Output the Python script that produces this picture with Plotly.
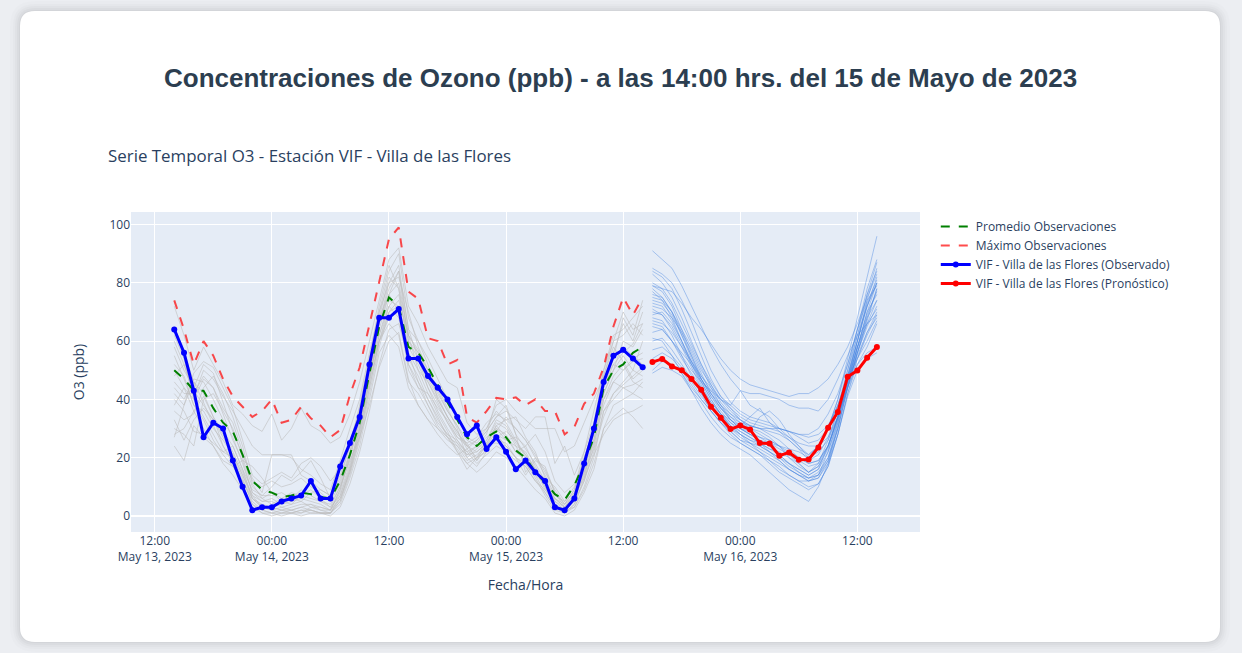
import plotly.graph_objects as go
import pandas as pd

obs_hours = pd.date_range("2023-05-13 14:00", periods=49, freq="h")
fc_hours = pd.date_range("2023-05-15 15:00", periods=24, freq="h")

promedio = [50,47,43,43,37,32,29,21,12,9, 8,6.5,7,8,7.5,6.5,6,12,21,32, 49,65,75,72,58,56,51,45,39,33,
            27,24,27,29,27,22.5,20,15,11.5,7.5, 5.5,10.5,18,27,44,50,52,56,58]
maximo = [74,64,52,60,55,47,41,37.5,34,36, 40,32,33,37.5,33.5,31,27,29.5,41.5,51, 66,80,95,99,77,74.5,61,60,52,53.5,
          34,32,36,40.5,40,40.7,38,40,36,36, 28,30.5,38.5,42,51,65,75,69,75]
observado = [64,56,43,27,32,30,19,10,2,3, 3,5,6,7,12,6,6,17,25,34, 52,68,68,71,54,54,48,44,40,34,
             28,31,23,27,22,16,19,15,12,3, 2,6,18,30,46,55,57,54,51]
pronostico = [52.8,53.9,51.3,50,47,43.3,37.5,33.7,29.8,31,29.7,25,24.9,20.7,21.8,19.3,19.4,23.5,30.3,35.7,47.8,49.9,54.3,58]

otras_estaciones = [
    [72,62,50,58,52,46,38,35,31,29, 35,26,30,37,31,29,25,27,35,46, 60,74,88,92,72,66,58,52,46,44, 32,28,30,38,40,36,33,30,30,30, 22,24,32,40,48,60,70,64,66],
    [60,52,41,50,47,41,36,30,24,21, 21,21,20,16,14,11,9,19,30,40, 56,70,80,86,64,60,54,47,40,34, 27,25,29,34,36,33,30,34,34,18, 24,14,22,32,44,54,68,62,74],
    [42,38,49,53,51,44,37,26,14,11, 13,15,13,18,20,17,12,16,26,36, 50,64,76,80,62,57,48,42,36,31, 24,22,25,30,26,27,24,28,22,12, 8,11,18,28,42,50,55,50,60],
    [24,19,31,27,24,19,17,19,17,13, 8,5,4,7,9,6,3,10,19,27, 38,51,60,63,47,38,33,30,27,22, 18,20,24,26,25,20,14,19,17,8, 4,7,13,21,28,33,35,36,38],
    [28,30,36,41,34,29,24,16,6,3, 2,1,2,3,2,1,1,6,15,28, 44,60,72,76,60,54,44,38,32,26, 22,18,21,24,22,19,17,12,8,3, 1,3,10,20,36,42,46,50,48],
    [38,44,40,34,28,22,20,13,4,2, 1,1,1,2,2,1,1,5,14,26, 42,58,70,72,56,50,46,40,34,29, 24,20,22,28,24,20,18,13,7,2, 1,4,12,24,40,48,52,46,44],
    [44,40,47,46,40,33,27,18,8,5, 6,4,5,6,5,4,2,8,18,30, 46,66,78,84,60,56,50,44,37,30, 20,23,26,32,30,24,22,16,10,4, 2,6,16,26,42,50,60,58,64],
    [55,47,38,36,30,26,21,14,6,4, 3,2,3,4,4,2,1,7,17,31, 48,62,74,72,58,52,44,36,30,25, 20,17,22,28,26,24,18,14,11,6, 3,6,14,25,38,46,44,42,40],
    [30,28,24,40,42,36,30,20,10,7, 7,8,6,5,8,9,7,13,24,36, 52,68,82,78,56,46,40,33,28,26, 21,24,27,30,28,22,19,14,8,3, 2,5,15,29,44,52,50,54,56],
    [48,52,43,38,33,27,21,14,7,3, 2,3,2,1,3,3,2,9,20,34, 50,60,66,62,46,42,36,30,26,24, 19,21,24,29,34,30,26,21,15,9, 4,9,20,30,46,54,58,55,52],
    [36,33,35,44,48,42,34,24,11,6, 4,6,8,7,6,5,3,7,16,29, 47,62,72,68,52,44,42,37,33,27, 24,26,30,36,32,26,20,15,13,10, 5,8,15,23,36,40,44,45,47],
    [65,56,46,42,34,24,18,10,4,1, 0,1,1,0,1,1,1,4,13,24, 40,56,62,58,44,38,33,28,24,21, 23,26,29,34,38,28,23,18,12,5, 2,3,9,18,30,38,40,42,46],
    [40,36,29,28,25,22,24,16,9,7, 10,14,12,15,19,13,6,12,22,35, 52,70,84,90,68,60,52,40,34,28, 25,19,23,27,29,26,21,16,9,6, 3,8,18,32,50,62,64,68,72],
    [52,48,38,33,26,21,17,12,5,2, 1,0,1,1,2,1,0,3,11,22, 36,52,64,66,54,48,40,34,27,23, 18,15,18,22,20,17,13,9,6,1, 0,2,8,16,30,34,37,34,30],
    [46,42,42,48,44,37,32,22,12,10, 12,10,11,13,10,8,5,11,21,33, 50,66,80,82,70,58,50,43,36,31, 26,24,24,31,27,22,24,17,11,5, 3,7,19,28,46,56,66,60,70],
    [33,26,33,37,33,28,22,15,7,5, 5,3,4,5,3,2,2,6,15,27, 44,60,68,70,50,44,38,32,28,24, 21,22,25,25,24,20,17,12,9,4, 2,5,12,22,34,42,45,48,51],
    [58,50,44,52,49,39,29,21,13,8, 21,21,21,14,12,9,7,14,24,38, 54,72,86,78,62,56,47,41,34,29, 23,19,25,31,33,30,26,20,14,7, 5,10,22,36,50,60,62,66,62],
    [50,44,36,30,24,18,14,9,3,1, 1,2,1,2,1,1,1,5,16,30, 46,60,70,74,62,50,42,35,29,22, 16,20,26,33,31,25,21,16,10,3, 1,4,13,26,40,46,50,53,54],
    [27,38,46,39,31,24,19,12,6,3, 3,2,2,3,4,3,2,9,22,37, 54,68,76,70,52,46,38,31,27,25, 22,24,28,40,37,28,15,20,16,8, 3,6,17,31,48,58,53,47,50],
    [62,54,40,47,44,35,26,19,8,6, 8,6,6,9,7,5,4,10,20,32, 48,66,76,84,64,54,46,39,32,27, 25,27,32,35,33,34,27,22,13,6, 4,9,20,30,47,52,56,59,66],
]

pronosticos_conjunto = [
    [91,88,85,79,72,65,58,52,47,43,38,36,34,30,27,24,21,24,30,40,54,68,82,96],
    [79,78,77,73,68,64,59,54,50,47,45,44,43,42,41,42,42,44,47,52,58,66,75,83],
    [85,83,80,74,67,58,50,44,39,36,34,33,32,30,29,27,25,26,30,38,50,64,78,88],
    [84,82,78,71,63,55,47,41,37,33,31,30,28,26,23,20,18,19,24,34,48,62,76,87],
    [80,78,73,66,59,52,45,39,35,32,30,28,26,24,21,18,15,17,23,34,47,60,73,81],
    [79,77,72,64,56,49,42,37,33,30,28,26,24,21,18,16,14,16,22,32,45,58,70,80],
    [76,75,70,63,55,47,41,36,32,29,27,25,22,20,17,15,13,15,20,30,44,56,67,78],
    [74,73,69,62,55,48,43,38,34,31,34,37,32,29,26,23,19,21,27,36,48,60,72,80],
    [72,71,68,63,57,50,45,40,36,33,30,29,27,24,20,17,15,18,26,36,50,62,72,82],
    [70,69,65,59,52,46,40,35,31,28,25,23,21,19,16,14,13,14,20,32,46,58,68,74],
    [69,70,66,60,53,47,42,38,35,33,31,30,29,28,26,23,21,24,30,40,52,64,74,79],
    [68,67,62,55,48,42,36,32,28,25,23,21,19,16,14,12,12,13,18,30,44,56,65,72],
    [66,65,60,54,49,44,39,35,31,28,26,24,22,19,16,14,12,13,19,31,45,55,63,70],
    [65,64,60,56,52,47,42,37,33,30,29,34,36,33,28,24,20,22,26,34,44,54,62,69],
    [63,64,60,55,50,46,43,40,38,43,42,42,41,40,38,37,37,36,40,47,55,62,66,69],
    [60,61,57,52,47,42,38,35,33,31,29,27,26,24,23,22,20,24,30,38,47,54,60,67],
    [57,58,55,51,46,41,37,34,31,29,27,25,23,22,20,18,15,17,24,34,46,56,66,74],
    [54,56,54,50,45,40,36,32,29,26,24,22,19,17,14,12,10,11,17,28,42,52,58,66],
    [61,60,55,49,43,37,32,28,25,23,21,18,15,12,9,7,5,10,18,28,42,54,63,68],
    [50,53,52,49,44,40,36,32,29,26,25,24,22,20,18,15,13,14,19,30,44,52,56,58],
    [49,51,50,48,43,39,34,30,27,25,23,21,18,15,13,11,9,11,17,28,41,50,54,56],
    [75,74,70,64,58,51,44,38,33,30,28,27,25,23,21,19,17,18,24,34,46,58,70,76],
    [73,72,67,60,52,45,39,35,32,30,28,26,25,24,22,20,18,19,24,33,46,60,74,85],
    [78,75,70,62,54,47,41,37,34,32,31,30,30,30,29,28,27,28,31,38,48,60,72,80],
    [83,80,75,68,60,52,46,41,38,35,33,32,31,30,29,28,28,30,35,42,52,64,76,84],
    [77,74,68,60,53,46,40,35,30,27,25,22,20,18,16,14,12,14,22,33,46,58,69,77],
    [71,69,64,58,51,44,38,33,30,28,26,25,23,21,18,16,14,16,24,34,47,58,66,71],
    [67,66,63,58,53,48,44,40,37,34,32,31,30,29,27,25,24,24,27,34,44,56,68,78],
]

W, H = 1242, 653
L, R, T, B = 131, 920, 212, 532
px = lambda v: (v - L) / (R - L)
py = lambda v: (B - v) / (B - T)


def rounded(x0, y0, x1, y1, r):
    return (f"M {px(x0+r)} {py(y0)} L {px(x1-r)} {py(y0)} "
            f"Q {px(x1)} {py(y0)} {px(x1)} {py(y0+r)} L {px(x1)} {py(y1-r)} "
            f"Q {px(x1)} {py(y1)} {px(x1-r)} {py(y1)} L {px(x0+r)} {py(y1)} "
            f"Q {px(x0)} {py(y1)} {px(x0)} {py(y1-r)} L {px(x0)} {py(y0+r)} "
            f"Q {px(x0)} {py(y0)} {px(x0+r)} {py(y0)} Z")


fig = go.Figure()
for serie in otras_estaciones:
    fig.add_trace(go.Scatter(x=obs_hours, y=serie, mode="lines", showlegend=False, hoverinfo="skip",
                             line=dict(color="rgba(190,190,190,0.6)", width=1)))
for serie in pronosticos_conjunto:
    fig.add_trace(go.Scatter(x=fc_hours, y=serie, mode="lines", showlegend=False, hoverinfo="skip",
                             line=dict(color="rgba(70,130,225,0.42)", width=1)))
fig.add_trace(go.Scatter(x=obs_hours, y=promedio, mode="lines", name="Promedio Observaciones",
                         line=dict(color="green", width=2, dash="dash")))
fig.add_trace(go.Scatter(x=obs_hours, y=maximo, mode="lines", name="Máximo Observaciones",
                         line=dict(color="rgba(255,0,0,0.7)", width=2, dash="dash")))
fig.add_trace(go.Scatter(x=obs_hours, y=observado, mode="lines+markers", name="VIF - Villa de las Flores (Observado)",
                         line=dict(color="blue", width=3), marker=dict(color="blue", size=6)))
fig.add_trace(go.Scatter(x=fc_hours, y=pronostico, mode="lines+markers", name="VIF - Villa de las Flores (Pronóstico)",
                         line=dict(color="red", width=3), marker=dict(color="red", size=6)))

shapes = []
for grow, alpha in [(10, 0.012), (7, 0.015), (5, 0.02), (3, 0.025), (1, 0.03)]:
    shapes.append(dict(type="path", xref="paper", yref="paper", layer="below", line_width=0,
                       fillcolor=f"rgba(0,0,0,{alpha})",
                       path=rounded(20 - grow, 11 - grow, 1220 + grow, 642 + grow, 15 + grow)))
shapes.append(dict(type="path", xref="paper", yref="paper", layer="below", line_width=0,
                   fillcolor="white", path=rounded(20, 11, 1220, 642, 15)))
shapes.append(dict(type="rect", xref="paper", yref="paper", layer="below", line_width=0,
                   fillcolor="#E5ECF6", x0=0, x1=1, y0=0, y1=1))

fig.update_layout(
    template="plotly",
    width=W, height=H,
    autosize=False,
    margin=dict(l=L, r=W - R, t=T, b=H - B, pad=0),
    paper_bgcolor="#eceef2",
    plot_bgcolor="#E5ECF6",
    font=dict(family="Open Sans, sans-serif", size=12, color="#2a3f5f"),
    title=dict(text="Serie Temporal O3 - Estación VIF - Villa de las Flores", x=108 / W, xanchor="left",
               y=1 - 156 / H, yanchor="middle", font=dict(size=16.9)),
    xaxis=dict(title=dict(text="Fecha/Hora", standoff=16), type="date",
               range=["2023-05-13 09:34", "2023-05-16 18:25"],
               dtick=43200000, tick0="2023-05-13 00:00", gridcolor="white"),
    yaxis=dict(title=dict(text="O3 (ppb)", standoff=21), range=[-5.5, 104.3], gridcolor="white",
               dtick=20, zerolinecolor="white", zerolinewidth=2),
    legend=dict(x=1.02, y=1, xanchor="left", yanchor="top", font=dict(size=12), bgcolor="rgba(0,0,0,0)"),
    shapes=shapes,
    annotations=[dict(text="<b>Concentraciones de Ozono (ppb) - a las 14:00 hrs. del 15 de Mayo de 2023</b>",
                      xref="paper", yref="paper", x=px(620), y=py(78), xanchor="center", yanchor="middle",
                      showarrow=False, font=dict(family="Liberation Sans, Arial, sans-serif", size=26, color="#2c3e50"))],
)

fig.write_html("out.html", config=dict(displayModeBar=False), post_script="document.body.style.margin='0';")
